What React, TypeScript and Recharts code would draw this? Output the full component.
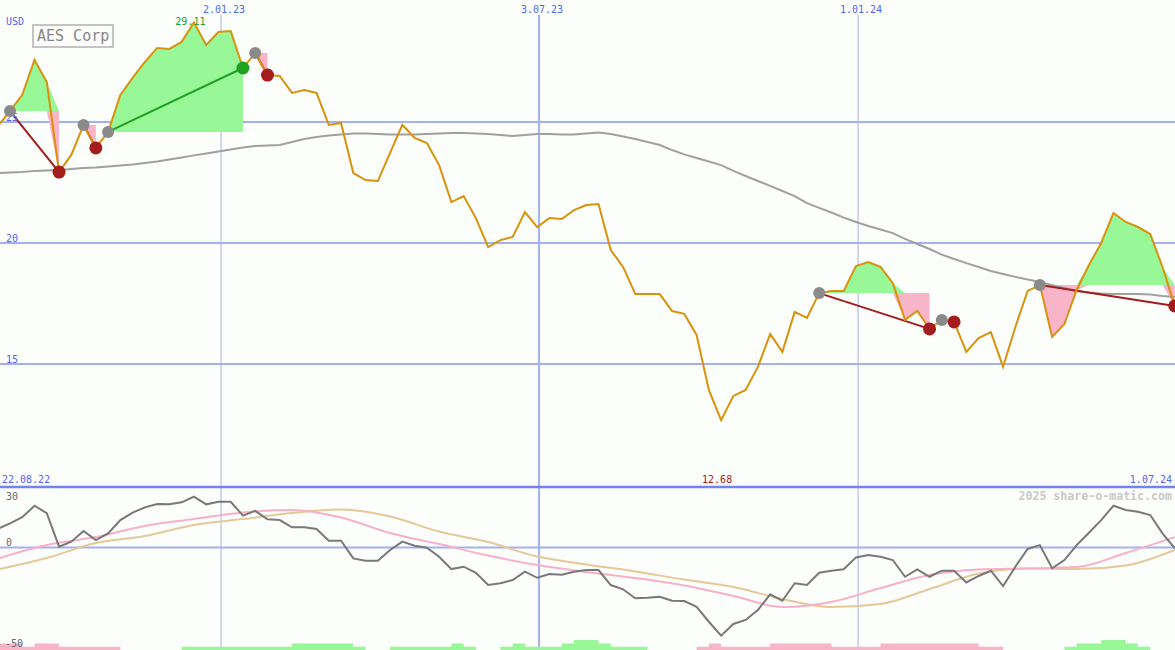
import { ComposedChart, Line, Area, XAxis, YAxis, CartesianGrid, ReferenceLine, ReferenceDot } from "recharts";

// AES Corp, weekly closes (USD). k = week index, k = -1 sits just off the left edge
const weeks = Array.from({ length: 97 }, (_, i) => i - 1);

const price = [
  24.83, 25.45, 26.12, 27.56, 26.65, 22.93, 23.64, 24.88, 23.93, 24.59,
  26.12, 26.82, 27.48, 28.06, 28.02, 28.31, 29.11, 28.18, 28.72, 28.76,
  27.23, 27.85, 26.94, 26.90, 26.20, 26.32, 26.20, 24.88, 24.96, 22.89,
  22.60, 22.56, 23.72, 24.88, 24.34, 24.13, 23.22, 21.69, 21.94, 21.03,
  19.83, 20.12, 20.25, 21.28, 20.66, 21.03, 20.99, 21.36, 21.57, 21.61,
  19.71, 19.01, 17.89, 17.89, 17.89, 17.19, 17.07, 16.20, 13.93, 12.68,
  13.68, 13.93, 14.88, 16.24, 15.50, 17.15, 16.90, 17.93, 18.02, 18.02,
  19.05, 19.21, 19.01, 18.35, 16.82, 17.19, 16.45, 16.82, 16.74, 15.50,
  16.07, 16.32, 14.88, 16.53, 18.02, 18.26, 16.12, 16.65, 18.06, 19.09,
  20.00, 21.24, 20.87, 20.66, 20.37, 19.01, 17.40,
];

// long moving average (gray)
const ma200 = [
  22.89, 22.91, 22.93, 22.98, 23.00, 23.02, 23.06, 23.10, 23.12, 23.16,
  23.20, 23.24, 23.31, 23.37, 23.45, 23.53, 23.62, 23.70, 23.78, 23.86,
  23.95, 24.01, 24.03, 24.05, 24.17, 24.30, 24.38, 24.44, 24.48, 24.52,
  24.52, 24.50, 24.48, 24.48, 24.48, 24.50, 24.52, 24.55, 24.55, 24.52,
  24.50, 24.46, 24.42, 24.46, 24.50, 24.50, 24.48, 24.48, 24.52, 24.57,
  24.50, 24.40, 24.30, 24.17, 24.05, 23.84, 23.66, 23.51, 23.37, 23.22,
  22.98, 22.77, 22.56, 22.36, 22.15, 21.94, 21.65, 21.45, 21.26, 21.05,
  20.87, 20.70, 20.56, 20.41, 20.17, 19.96, 19.75, 19.52, 19.34, 19.17,
  19.01, 18.84, 18.72, 18.60, 18.49, 18.39, 18.26, 18.14, 18.02, 17.95,
  17.91, 17.89, 17.89, 17.89, 17.87, 17.81, 17.77,
];

// lower panel oscillator (dark gray)
const osc = [
  9.2, 12.0, 15.0, 20.7, 17.0, 0.4, 2.9, 8.2, 3.7, 7.0,
  13.6, 17.3, 19.9, 21.6, 21.4, 22.4, 25.2, 21.4, 22.7, 22.7,
  15.8, 18.2, 14.0, 13.6, 10.0, 10.0, 9.2, 3.4, 3.4, -5.4,
  -6.5, -6.5, -1.2, 2.9, 0.9, -0.1, -4.6, -10.7, -9.5, -12.5,
  -18.6, -17.7, -16.1, -12.0, -15.0, -13.1, -13.5, -12.0, -11.2, -11.2,
  -18.6, -20.7, -25.2, -24.9, -24.4, -26.4, -26.5, -29.4, -36.8, -43.7,
  -37.9, -35.9, -31.0, -23.2, -26.4, -17.7, -18.6, -12.5, -11.5, -10.8,
  -4.9, -3.7, -4.6, -6.2, -14.5, -10.8, -14.5, -11.5, -11.5, -17.3,
  -14.1, -11.5, -19.1, -9.5, -0.7, 1.2, -10.3, -6.2, 1.2, 7.3,
  13.6, 20.7, 18.6, 17.7, 16.1, 7.0, -0.4,
];

// smoothed oscillator lines, read every 4th week
const smoothWeeks = [-1, 3, 7, 11, 15, 19, 23, 27, 31, 35, 39, 43, 47, 51, 55, 59, 63, 67, 71, 75, 79, 83, 87, 91, 95];
const oscFast = [-5.5, 1.2, 5.2, 10.7, 14.1, 17.4, 18.6, 14.9, 7.2, 1.7, -4.0, -8.7, -12.1, -15.1, -18.8, -24.0, -29.5, -27.0, -20.1, -13.6, -10.9, -10.4, -9.7, -2.7, 5.2];
const oscSlow = [-10.9, -5.2, 2.2, 5.7, 11.2, 14.1, 17.1, 18.8, 15.4, 7.9, 2.7, -4.5, -8.4, -11.9, -15.9, -19.6, -25.5, -29.5, -28.0, -20.6, -12.9, -10.4, -10.7, -8.9, -1.2];

// trend strength histogram at the bottom (level per week)
const upLevel = [
  0, 0, 0, 0, 0, 0, 0, 0, 0, 0,
  0, 0, 0, 0, 0, 1, 1, 1, 1, 1,
  1, 1, 1, 1, 2, 2, 2, 2, 2, 1,
  0, 0, 1, 1, 1, 1, 1, 2, 1, 0,
  0, 1, 2, 1, 1, 1, 2, 3, 3, 2,
  1, 1, 1, 0, 0, 0, 0, 0, 0, 0,
  0, 0, 0, 0, 0, 0, 0, 0, 0, 0,
  0, 0, 0, 0, 0, 0, 0, 0, 0, 0,
  0, 0, 0, 0, 0, 0, 0, 1, 2, 2,
  3, 3, 2, 1, 0, 0, 0,
];
const downLevel = [
  2, 2, 1, 2, 2, 1, 1, 1, 1, 1,
  0, 0, 0, 0, 0, 0, 0, 0, 0, 0,
  0, 0, 0, 0, 0, 0, 0, 0, 0, 0,
  0, 0, 0, 0, 0, 0, 0, 0, 0, 0,
  0, 0, 0, 0, 0, 0, 0, 0, 0, 0,
  0, 0, 0, 0, 0, 0, 0, 1, 2, 1,
  1, 1, 1, 2, 2, 2, 2, 2, 1, 1,
  1, 1, 2, 2, 2, 2, 2, 2, 2, 2,
  1, 1, 0, 0, 0, 0, 0, 0, 0, 0,
  0, 0, 0, 0, 0, 0, 0,
];

// signals: entry week -> exit week
const trades = [
  { entry: 0, exit: 4, win: false },
  { entry: 6, exit: 7, win: false },
  { entry: 8, exit: 19, win: true },
  { entry: 20, exit: 21, win: false },
  { entry: 66, exit: 75, win: false },
  { entry: 76, exit: 77, win: false },
  { entry: 84, exit: 95, win: false },
];

const dateLines = [
  { k: 17.21, label: "2.01.23", thick: false },
  { k: 43.15, label: "3.07.23", thick: true },
  { k: 69.17, label: "1.01.24", thick: false },
];
const priceGrid = [15, 20, 25];
const peak = { k: 15, v: 29.11 };
const low = { k: 58, v: 12.68 };

const xDomain = [-0.816, 95.02];
const mono = '"DejaVu Sans Mono", monospace';
const bg = "#fcfefc";
const gridBlue = "#a3b1f0";
const thinBlue = "#a8b0e4";
const textBlue = "#4f66f2";
const darkRed = "#a41c1c";
const green = "#22a022";

const priceAt = (k: number) => price[k + 1];

const mainRows = weeks.map((k, i) => {
  const row: any = { k, price: price[i], ma: ma200[i] };
  trades.forEach((t, j) => {
    if (k < t.entry || k > t.exit) return;
    const base = priceAt(t.entry);
    const slot = j % 2 ? "B" : "A";
    row["gain" + slot] = [base, Math.max(price[i], base)];
    row["loss" + slot] = [Math.min(price[i], base), base];
    if (k === t.entry) {
      row["seg" + j] = price[i];
      row.entryMark = price[i];
    }
    if (k === t.exit) {
      row["seg" + j] = price[i];
      row[t.win ? "winMark" : "lossMark"] = price[i];
    }
  });
  return row;
});

const lowerRows = weeks.map((k, i) => ({ k, osc: osc[i], up: upLevel[i], down: downLevel[i] }));
const fastPts = smoothWeeks.map((k, i) => ({ k, fast: oscFast[i] }));
const slowPts = smoothWeeks.map((k, i) => ({ k, slow: oscSlow[i] }));

const thinK = dateLines.filter((d) => !d.thick).map((d) => d.k);
const thickK = dateLines.filter((d) => d.thick).map((d) => d.k);

// small text label placed relative to the reference element's viewBox
const Tag = (props: any) => {
  const { viewBox, text, dx = 0, dy = 0, anchor = "start", color = textBlue, size = 10, mask = false } = props;
  if (!viewBox) return null;
  return (
    <g>
      {mask && <rect x={viewBox.x - 2} y={viewBox.y} width={4} height={15} fill={bg} />}
      <text x={viewBox.x + dx} y={viewBox.y + dy} textAnchor={anchor} fill={color} fontSize={size} fontFamily={mono}>
        {text}
      </text>
    </g>
  );
};

export default function App() {
  return (
    <div style={{ position: "fixed", left: 0, top: 0, width: 1175, height: 650, background: bg, overflow: "hidden" }}>
      <div style={{ position: "absolute", left: 0, top: 0 }}>
        <ComposedChart width={1175} height={487} data={mainRows} margin={{ top: 0, right: 0, bottom: 0, left: 0 }}>
          <XAxis dataKey="k" type="number" domain={xDomain} allowDataOverflow hide />
          <YAxis domain={[9.917, 30.041]} allowDataOverflow hide />
          <CartesianGrid vertical={false} horizontalValues={priceGrid} stroke={gridBlue} strokeWidth={2} />
          <CartesianGrid horizontal={false} verticalValues={thinK} stroke={thinBlue} strokeWidth={1} />
          <CartesianGrid horizontal={false} verticalValues={thickK} stroke={gridBlue} strokeWidth={2} />

          <Area dataKey="gainA" type="linear" stroke="none" fill="#98f898" fillOpacity={1} isAnimationActive={false} />
          <Area dataKey="gainB" type="linear" stroke="none" fill="#98f898" fillOpacity={1} isAnimationActive={false} />
          <Area dataKey="lossA" type="linear" stroke="none" fill="#f8b4c8" fillOpacity={1} isAnimationActive={false} />
          <Area dataKey="lossB" type="linear" stroke="none" fill="#f8b4c8" fillOpacity={1} isAnimationActive={false} />

          <Line dataKey="ma" type="linear" stroke="#a0a0a0" strokeWidth={2} dot={false} isAnimationActive={false} />

          <Line dataKey="entryMark" stroke="none" dot={{ r: 6, fill: "#8a8a8a", stroke: "none" }} activeDot={false} isAnimationActive={false} />
          <Line dataKey="lossMark" stroke="none" dot={{ r: 6.5, fill: darkRed, stroke: "none" }} activeDot={false} isAnimationActive={false} />
          <Line dataKey="winMark" stroke="none" dot={{ r: 6.5, fill: green, stroke: "none" }} activeDot={false} isAnimationActive={false} />

          {trades.map((t, j) => (
            <Line
              key={"seg" + j}
              dataKey={"seg" + j}
              connectNulls
              stroke={t.win ? green : darkRed}
              strokeWidth={2}
              dot={false}
              activeDot={false}
              isAnimationActive={false}
            />
          ))}

          <Line dataKey="price" type="linear" stroke="#d8920c" strokeWidth={2} dot={false} activeDot={false} isAnimationActive={false} />

          {priceGrid.map((v) => (
            <ReferenceLine key={"y" + v} y={v} stroke="none" label={<Tag text={String(v)} dx={6} dy={-1} />} />
          ))}
          {dateLines.map((d) => (
            <ReferenceLine key={d.label} x={d.k} stroke="none" label={<Tag text={d.label} anchor="middle" dx={3} dy={13} mask />} />
          ))}
          <ReferenceDot x={peak.k} y={peak.v} r={1} fill="none" stroke="none" label={<Tag text={peak.v.toFixed(2)} anchor="middle" dx={-2.5} dy={3.5} color={green} />} />
          <ReferenceLine x={low.k} stroke="none" label={<Tag text={low.v.toFixed(2)} anchor="middle" dx={-4} dy={483} color={darkRed} />} />
        </ComposedChart>
      </div>

      <div style={{ position: "absolute", left: 0, top: 480 }}>
        <ComposedChart width={1175} height={170} data={lowerRows} margin={{ top: 7, right: 0, bottom: 0, left: 0 }}>
          <XAxis dataKey="k" type="number" domain={xDomain} allowDataOverflow hide />
          <YAxis yAxisId="osc" domain={[-50.8, 30]} allowDataOverflow hide />
          <YAxis yAxisId="bars" domain={[0, 49.4]} allowDataOverflow hide />
          <CartesianGrid yAxisId="osc" vertical={false} horizontalValues={[0]} stroke={gridBlue} strokeWidth={2} />
          <CartesianGrid yAxisId="osc" horizontal={false} verticalValues={thinK} stroke={thinBlue} strokeWidth={1} />
          <CartesianGrid yAxisId="osc" horizontal={false} verticalValues={thickK} stroke={gridBlue} strokeWidth={2} />

          <Area yAxisId="bars" dataKey="up" type="stepAfter" stroke="none" fill="#98f898" fillOpacity={1} isAnimationActive={false} />
          <Area yAxisId="bars" dataKey="down" type="stepAfter" stroke="none" fill="#f8b4c8" fillOpacity={1} isAnimationActive={false} />

          <Line yAxisId="osc" data={slowPts} dataKey="slow" type="monotone" stroke="#e4c898" strokeWidth={2} dot={false} activeDot={false} isAnimationActive={false} />
          <Line yAxisId="osc" data={fastPts} dataKey="fast" type="monotone" stroke="#f8b0c8" strokeWidth={2} dot={false} activeDot={false} isAnimationActive={false} />
          <Line yAxisId="osc" dataKey="osc" type="linear" stroke="#787878" strokeWidth={2} dot={false} activeDot={false} isAnimationActive={false} />

          <ReferenceLine yAxisId="osc" y={30} stroke="#7383ee" strokeWidth={2.5} label={<Tag text="30" dx={6} dy={13} color="#6a6a6a" />} />
          <ReferenceLine yAxisId="osc" y={0} stroke="none" label={<Tag text="0" dx={6} dy={-2} color="#6a6a6a" />} />
          <ReferenceLine yAxisId="osc" y={-50} stroke="none" label={<Tag text="-50" dx={5} dy={-1} color="#6a6a6a" />} />
        </ComposedChart>
      </div>

      <svg width={1175} height={650} style={{ position: "absolute", left: 0, top: 0, pointerEvents: "none" }}>
        <text x={6} y={25} fontSize={10} fontFamily={mono} fill={textBlue}>USD</text>
        <rect x={33} y={25} width={80} height={22} fill="none" stroke="#c4c4c4" strokeWidth={2} />
        <text x={37} y={41} fontSize={15} fontFamily={mono} fill="#858585">AES Corp</text>
        <text x={2} y={483} fontSize={10} fontFamily={mono} fill={textBlue}>22.08.22</text>
        <text x={1172} y={483} fontSize={10} fontFamily={mono} fill={textBlue} textAnchor="end">1.07.24</text>
        <text x={1172} y={500} fontSize={11.6} fontWeight="bold" fontFamily={mono} fill="#c8c8c8" textAnchor="end">2025 share-o-matic.com</text>
      </svg>
    </div>
  );
}
